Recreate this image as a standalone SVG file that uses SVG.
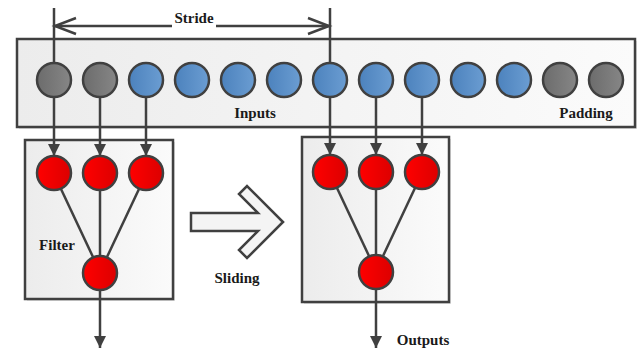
<svg xmlns="http://www.w3.org/2000/svg" width="639" height="349" viewBox="0 0 639 349">
<defs>
<linearGradient id="gBox" x1="0" y1="0" x2="1" y2="0"><stop offset="0" stop-color="#ececec"/><stop offset="1" stop-color="#fbfbfb"/></linearGradient>
<linearGradient id="gGray" x1="0" y1="0" x2="1" y2="0"><stop offset="0" stop-color="#6c6c6c"/><stop offset="1" stop-color="#868686"/></linearGradient>
<linearGradient id="gBlue" x1="0" y1="0" x2="1" y2="0"><stop offset="0" stop-color="#4c82bd"/><stop offset="1" stop-color="#6b9dd2"/></linearGradient>
<linearGradient id="gRed" x1="0" y1="0" x2="1" y2="0"><stop offset="0" stop-color="#ff0000"/><stop offset="1" stop-color="#dc0000"/></linearGradient>
<marker id="ah" markerUnits="userSpaceOnUse" markerWidth="14" markerHeight="14" viewBox="0 0 14 14" refX="12" refY="7" orient="auto"><path d="M0,1 L12,7 L0,13 Z" fill="#404040"/></marker>
</defs>
<style>
.box{fill:url(#gBox);stroke:#404040;stroke-width:2.5}
.sh{fill:#d0d0d0;opacity:0.6}
.c{stroke:#404040;stroke-width:2.5}
.gray{fill:url(#gGray)}
.blue{fill:url(#gBlue)}
.red{fill:url(#gRed)}
.ln{stroke:#404040;stroke-width:2.5;fill:none}
.t{font-family:"Liberation Serif",serif;font-weight:bold;font-size:15px;fill:#1a1a1a;text-anchor:middle}
</style>
<rect width="639" height="349" fill="#ffffff"/>

<g id="inputs">
<rect class="sh" x="19" y="41" width="618" height="88"/>
<rect class="box" x="17" y="39" width="618" height="88"/>
<circle class="c gray" cx="54" cy="80" r="17"/>
<circle class="c gray" cx="100" cy="80" r="17"/>
<circle class="c blue" cx="146" cy="80" r="17"/>
<circle class="c blue" cx="192" cy="80" r="17"/>
<circle class="c blue" cx="238" cy="80" r="17"/>
<circle class="c blue" cx="284" cy="80" r="17"/>
<circle class="c blue" cx="330" cy="80" r="17"/>
<circle class="c blue" cx="376" cy="80" r="17"/>
<circle class="c blue" cx="422" cy="80" r="17"/>
<circle class="c blue" cx="468" cy="80" r="17"/>
<circle class="c blue" cx="514" cy="80" r="17"/>
<circle class="c gray" cx="560" cy="80" r="17"/>
<circle class="c gray" cx="606" cy="80" r="17"/>
<text class="t" x="255" y="118">Inputs</text>
<text class="t" x="586" y="118">Padding</text>
</g>

<g id="filter1">
<rect class="sh" x="27" y="142" width="148" height="159"/>
<rect class="box" x="25" y="140" width="148" height="159"/>
<g class="ln">
<line x1="61" y1="189" x2="93" y2="257"/>
<line x1="100" y1="190" x2="100" y2="256"/>
<line x1="139" y1="189" x2="107" y2="257"/>
</g>
<circle class="c red" cx="54" cy="173" r="17"/>
<circle class="c red" cx="100" cy="173" r="17"/>
<circle class="c red" cx="146" cy="173" r="17"/>
<circle class="c red" cx="100" cy="273" r="17"/>
<text class="t" x="57" y="250">Filter</text>
</g>

<g id="filter2">
<rect class="sh" x="304" y="139" width="147" height="165"/>
<rect class="box" x="302" y="137" width="147" height="165"/>
<g class="ln">
<line x1="337" y1="188" x2="369" y2="256"/>
<line x1="376" y1="189" x2="376" y2="255"/>
<line x1="415" y1="188" x2="383" y2="256"/>
</g>
<circle class="c red" cx="330" cy="172" r="17"/>
<circle class="c red" cx="376" cy="172" r="17"/>
<circle class="c red" cx="422" cy="172" r="17"/>
<circle class="c red" cx="376" cy="272" r="17"/>
</g>

<g id="sliding">
<path d="M193,215 L260,215 L241,196 L249,188 L285,222 L249,258 L241,250 L260,231 L193,231 Z" fill="#d8d8d8" opacity="0.6"/>
<path d="M191,213 L258,213 L239,194 L247,186 L283,222 L247,258 L239,250 L258,231 L191,231 Z" fill="#f4f4f4" stroke="#404040" stroke-width="2.5" stroke-linejoin="miter"/>
<text class="t" x="237" y="283">Sliding</text>
</g>

<g id="connectors" class="ln">
<line x1="54" y1="8" x2="54" y2="63"/>
<line x1="330" y1="8" x2="330" y2="63"/>
<line x1="54" y1="26" x2="172" y2="26"/>
<line x1="216" y1="26" x2="330" y2="26"/>
<polyline points="76,18 55,26 76,34"/>
<polyline points="308,18 329,26 308,34"/>
<line x1="54" y1="97" x2="54" y2="156" marker-end="url(#ah)"/>
<line x1="100" y1="97" x2="100" y2="156" marker-end="url(#ah)"/>
<line x1="146" y1="97" x2="146" y2="156" marker-end="url(#ah)"/>
<line x1="330" y1="97" x2="330" y2="155" marker-end="url(#ah)"/>
<line x1="376" y1="97" x2="376" y2="155" marker-end="url(#ah)"/>
<line x1="422" y1="97" x2="422" y2="155" marker-end="url(#ah)"/>
<line x1="100" y1="290" x2="100" y2="348" marker-end="url(#ah)"/>
<line x1="376" y1="289" x2="376" y2="348" marker-end="url(#ah)"/>
</g>
<text class="t" x="194" y="23">Stride</text>
<text class="t" x="423" y="345">Outputs</text>
</svg>
